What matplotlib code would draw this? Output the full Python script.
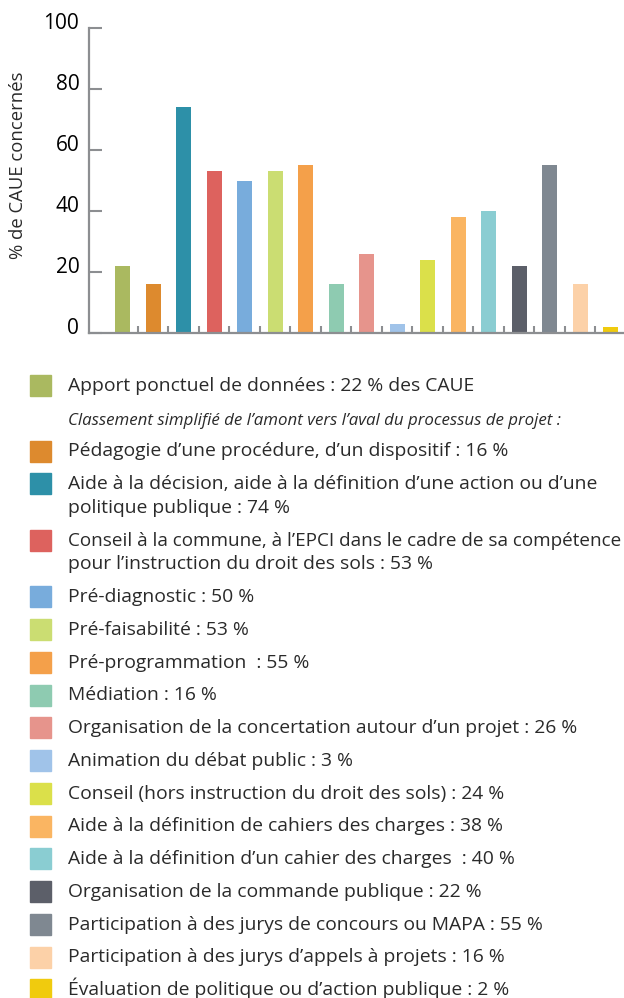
import numpy as np
import matplotlib
matplotlib.use("Agg")
import matplotlib.pyplot as plt
from matplotlib.patches import Rectangle
from matplotlib.transforms import ScaledTranslation

# Données (% des CAUE concernés)
names = [
    "Apport ponctuel de données",
    "Pédagogie d’une procédure, d’un dispositif",
    "Aide à la décision, aide à la définition d’une action ou d’une\npolitique publique",
    "Conseil à la commune, à l’EPCI dans le cadre de sa compétence\npour l’instruction du droit des sols",
    "Pré-diagnostic",
    "Pré-faisabilité",
    "Pré-programmation ",
    "Médiation",
    "Organisation de la concertation autour d’un projet",
    "Animation du débat public",
    "Conseil (hors instruction du droit des sols)",
    "Aide à la définition de cahiers des charges",
    "Aide à la définition d’un cahier des charges ",
    "Organisation de la commande publique",
    "Participation à des jurys de concours ou MAPA",
    "Participation à des jurys d’appels à projets",
    "Évaluation de politique ou d’action publique",
]
values = [22, 16, 74, 53, 50, 53, 55, 16, 26, 3, 24, 38, 40, 22, 55, 16, 2]
colors = ["#aab960", "#dd8a2e", "#2d90a8", "#dd625e", "#78acdc", "#cbdd72",
          "#f4a04a", "#8ecbb1", "#e6948c", "#a0c3e9", "#dbe04a", "#fab562",
          "#8acdd2", "#5c5f69", "#7f8891", "#fcd1a8", "#f0cb0e"]
yticks = [0, 20, 40, 60, 80, 100]
note = "Classement simplifié de l’amont vers l’aval du processus de projet :"

FONT = ["Open Sans", "DejaVu Sans"]
W, H = 624, 998
GRAY = "#8c8e91"
TXT = "#2a2a2a"


def px(x, y):
    return x / W, 1 - y / H


fig = plt.figure(figsize=(W / 100, H / 100), dpi=100)
ax = fig.add_axes([89 / W, (H - 333) / H, 535 / W, 305 / H])

x = np.arange(len(values))
ax.bar(x, values, width=0.49, color=colors, zorder=1)

ax.set_xlim(-1.1, 16.44)
ax.set_ylim(0, 100)
for s in ["top", "right"]:
    ax.spines[s].set_visible(False)
for s in ["left", "bottom"]:
    ax.spines[s].set_color(GRAY)
    ax.spines[s].set_linewidth(1.6)
    ax.spines[s].set_zorder(3)

ax.set_xticks(x[:-1] + 0.5)
ax.set_xticklabels([])
ax.tick_params(axis="x", direction="in", length=5, width=1.5, color=GRAY)
ax.set_yticks(yticks)
ax.set_yticklabels([str(v) for v in yticks], fontfamily=FONT, fontsize=15, color="black")
ax.tick_params(axis="y", direction="in", length=9, width=1.5, color=GRAY, pad=7)
off = ScaledTranslation(0, 7 / 100, fig.dpi_scale_trans)
for lab in ax.get_yticklabels():
    lab.set_transform(lab.get_transform() + off)

fig.text(*px(18, 165), "% de CAUE concernés", rotation=90, ha="center", va="center",
         fontfamily=FONT, fontsize=13.3, color=TXT)

# Légende
step, extra = 32.75, 23.8
y = 385.5
texts = []
for i, (name, v, c) in enumerate(zip(names, values, colors)):
    label = f"{name} : {v} %" + (" des CAUE" if i == 0 else "")
    fig.patches.append(Rectangle(px(30, y + 10.5), 21 / W, 21 / H,
                                 transform=fig.transFigure, color=c, figure=fig))
    lines = label.split("\n")
    for k, line in enumerate(lines):
        texts.append(fig.text(*px(68, y + 5.4 + k * extra), line, ha="left", va="baseline",
                              fontfamily=FONT, fontsize=13.9, color=TXT))
    if i == 0:
        fig.text(*px(68, y + step + 6.5), note, ha="left", va="baseline", style="italic",
                 fontfamily=FONT, fontsize=12.2, color=TXT)
        y += step
    y += step + extra * (len(lines) - 1)

# une ligne trop longue déborde : on la réduit juste assez
renderer = fig.canvas.get_renderer()
for t in texts:
    bb = t.get_window_extent(renderer)
    if bb.x1 > W - 2:
        t.set_fontsize(t.get_fontsize() * (W - 2 - bb.x0) / bb.width)

fig.savefig("out.png", dpi=100)
